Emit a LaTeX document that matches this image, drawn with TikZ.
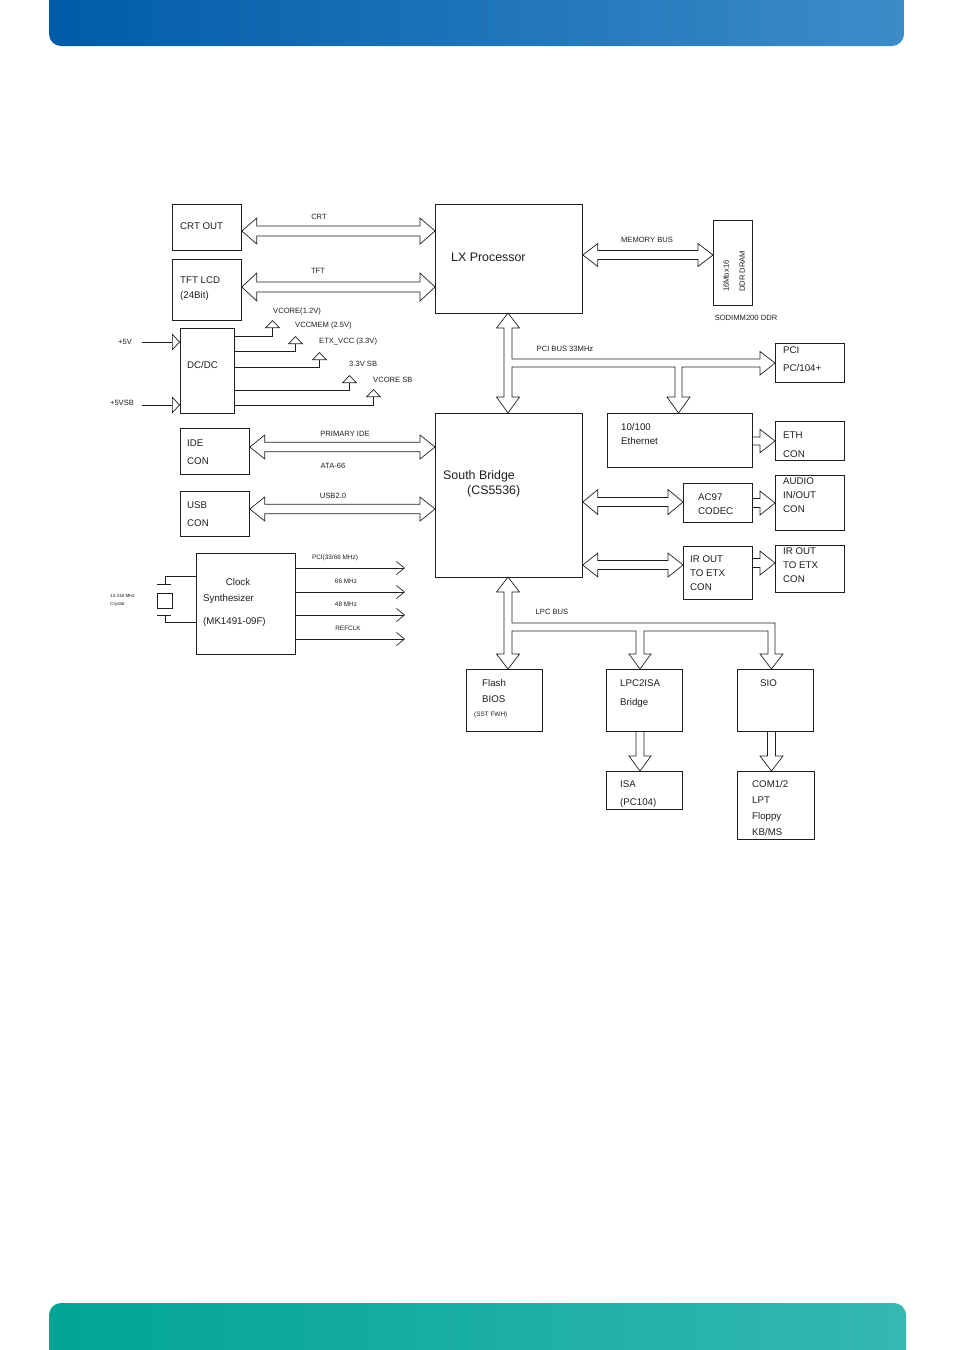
\documentclass[tikz,border=0pt]{standalone}
\usepackage{fontspec}
\setmainfont{Liberation Sans}
\usetikzlibrary{arrows.meta,calc}
\definecolor{hdrL}{RGB}{0,92,168}
\definecolor{hdrR}{RGB}{60,140,200}
\definecolor{ftrL}{RGB}{0,164,150}
\definecolor{ftrR}{RGB}{52,184,178}
\definecolor{ink}{RGB}{30,30,30}
\newcommand\hbus[4]{\draw[bus] let \p1=(#1), \p2=(#2) in (\x1,\y1) -- (\x1+15pt,\y1+#4) -- (\x1+15pt,\y1+#3) -- (\x2-15pt,\y1+#3) -- (\x2-15pt,\y1+#4) -- (\x2,\y1) -- (\x2-15pt,\y1-#4) -- (\x2-15pt,\y1-#3) -- (\x1+15pt,\y1-#3) -- (\x1+15pt,\y1-#4) -- cycle;}
\newcommand\hone[4]{\draw[bus] let \p1=(#1), \p2=(#2) in (\x1,\y1+#3) -- (\x2-15pt,\y1+#3) -- (\x2-15pt,\y1+#4) -- (\x2,\y1) -- (\x2-15pt,\y1-#4) -- (\x2-15pt,\y1-#3) -- (\x1,\y1-#3);}
\newcommand\vone[4]{\draw[bus] let \p1=(#1), \p2=(#2) in (\x1-#3,\y1) -- (\x1-#3,\y2+15pt) -- (\x1-#4,\y2+15pt) -- (\x1,\y2) -- (\x1+#4,\y2+15pt) -- (\x1+#3,\y2+15pt) -- (\x1+#3,\y1);}
\tikzset{
 box/.style={draw=ink, line width=0.8pt, anchor=north west, inner sep=0pt},
 bus/.style={draw=ink, line width=0.7pt, line join=miter},
 wire/.style={draw=ink, line width=0.7pt},
 pwr/.style={wire, -{Triangle[open,length=8pt,width=15pt]}},
 pin/.style={wire, -{Triangle[open,length=8pt,width=17pt]}},
 clkout/.style={wire, -{Straight Barb[length=8pt,width=13pt]}},
 txt/.style={inner sep=0pt, anchor=west, text=ink, font=\fontsize{9.7}{11}\selectfont, text height=7pt, text depth=0pt},
 txtb/.style={txt, font=\fontsize{12.4}{14}\selectfont, text height=8.9pt},
 txts/.style={txt, font=\fontsize{7.6}{9}\selectfont, text height=5.5pt},
 txtc/.style={txts, anchor=center},
 txtt/.style={txt, font=\fontsize{6.4}{7}\selectfont, text height=4.6pt, anchor=center},
 txtx/.style={txt, font=\fontsize{4.6}{5}\selectfont, text height=3.3pt},
}
\begin{document}
\begin{tikzpicture}[x=1pt,y=-1pt]
\useasboundingbox (0,0) rectangle (954,1350);
\shade[left color=hdrL,right color=hdrR,rounded corners=12pt] (49,-20) rectangle (904,46);
\shade[left color=ftrL,right color=ftrR,rounded corners=12pt] (49,1303) rectangle (906,1380);

% boxes
\node[box,minimum width=69,minimum height=46] (crtout) at (172,204) {};
\node[box,minimum width=69,minimum height=61] (tft) at (172,259) {};
\node[box,minimum width=147,minimum height=109] (lx) at (435,204) {};
\node[box,minimum width=39,minimum height=85] (ddr) at (713,220) {};
\node[box,minimum width=54,minimum height=85] (dcdc) at (180,328) {};
\node[box,minimum width=69,minimum height=39] (pci) at (775,343) {};
\node[box,minimum width=69,minimum height=46] (ide) at (180,428) {};
\node[box,minimum width=69,minimum height=45] (usb) at (180,491) {};
\node[box,minimum width=99,minimum height=101] (clk) at (196,553) {};
\node[box,minimum width=147,minimum height=164] (sb) at (435,413) {};
\node[box,minimum width=145,minimum height=54] (eth) at (607,413) {};
\node[box,minimum width=69,minimum height=39] (ethcon) at (775,421) {};
\node[box,minimum width=69,minimum height=39] (ac97) at (683,483) {};
\node[box,minimum width=69,minimum height=55] (audio) at (775,475) {};
\node[box,minimum width=69,minimum height=53] (irout) at (683,546) {};
\node[box,minimum width=69,minimum height=47] (ircon) at (775,545) {};
\node[box,minimum width=76,minimum height=62] (flash) at (466,669) {};
\node[box,minimum width=76,minimum height=62] (lpc2isa) at (606,669) {};
\node[box,minimum width=76,minimum height=62] (sio) at (737,669) {};
\node[box,minimum width=76,minimum height=38] (isa) at (606,771) {};
\node[box,minimum width=77,minimum height=68] (com) at (737,771) {};

% box texts
\node[txt] (t1) at (180,226) {CRT OUT};
\node[txt] (t2) at (180,280) {TFT LCD};
\node[txt] (t3) at (180,295) {(24Bit)};
\node[txtb] (t4) at (451,257) {LX Processor};
\node[txts,rotate=90] (t5) at (726,292) {16Mbx16};
\node[txts,rotate=90] (t6) at (742,292) {DDR DRAM};
\node[txtc] (t7) at (746,318) {SODIMM200 DDR};
\node[txt] (t8) at (187,365) {DC/DC};
\node[txt] (t9) at (783,350) {PCI};
\node[txt] (t10) at (783,368) {PC/104+};
\node[txt] (t11) at (187,443) {IDE};
\node[txt] (t12) at (187,461) {CON};
\node[txt] (t13) at (187,505) {USB};
\node[txt] (t14) at (187,523) {CON};
\node[txt,anchor=center] (t15) at (238,582) {Clock};
\node[txt] (t16) at (203,598) {Synthesizer};
\node[txt] (t17) at (203,621) {(MK1491-09F)};
\node[txtb] (t18) at (443,475) {South Bridge};
\node[txtb] (t19) at (467,490) {(CS5536)};
\node[txt] (t20) at (621,427) {10/100};
\node[txt] (t21) at (621,441) {Ethernet};
\node[txt] (t22) at (783,435) {ETH};
\node[txt] (t23) at (783,454) {CON};
\node[txt] (t24) at (698,497) {AC97};
\node[txt] (t25) at (698,511) {CODEC};
\node[txt] (t26) at (783,481) {AUDIO};
\node[txt] (t27) at (783,495) {IN/OUT};
\node[txt] (t28) at (783,509) {CON};
\node[txt] (t29) at (690,559) {IR OUT};
\node[txt] (t30) at (690,573) {TO ETX};
\node[txt] (t31) at (690,587) {CON};
\node[txt] (t32) at (783,551) {IR OUT};
\node[txt] (t33) at (783,565) {TO ETX};
\node[txt] (t34) at (783,579) {CON};
\node[txt] (t35) at (482,683) {Flash};
\node[txt] (t36) at (482,699) {BIOS};
\node[txtt,anchor=west] (t37) at (474,714) {(SST FWH)};
\node[txt] (t38) at (620,683) {LPC2ISA};
\node[txt] (t39) at (620,702) {Bridge};
\node[txt] (t40) at (760,683) {SIO};
\node[txt] (t41) at (620,784) {ISA};
\node[txt] (t42) at (620,802) {(PC104)};
\node[txt] (t43) at (752,784) {COM1/2};
\node[txt] (t44) at (752,800) {LPT};
\node[txt] (t45) at (752,816) {Floppy};
\node[txt] (t46) at (752,832) {KB/MS};

% connector labels
\node[txtc] (l1) at (319,217) {CRT};
\node[txtc] (l2) at (318,271) {TFT};
\node[txtc] (l3) at (647,240) {MEMORY BUS};
\node[txtc] (l4) at (565,349) {PCI BUS 33MHz};
\node[txts] (l5) at (273,311) {VCORE(1.2V)};
\node[txts] (l6) at (295,325) {VCCMEM (2.5V)};
\node[txts] (l7) at (319,341) {ETX\_VCC (3.3V)};
\node[txts] (l8) at (349,364) {3.3V SB};
\node[txts] (l9) at (373,380) {VCORE SB};
\node[txtc] (l10) at (125,342) {+5V};
\node[txtc] (l11) at (122,403) {+5VSB};
\node[txtc] (l12) at (345,434) {PRIMARY IDE};
\node[txtc] (l13) at (333,466) {ATA-66};
\node[txtc] (l14) at (333,496) {USB2.0};
\node[txtt] (l15) at (335,557) {PCI(33/66 MHz)};
\node[txtt] (l16) at (346,581) {66 MHz};
\node[txtt] (l17) at (346,604) {48 MHz};
\node[txtt] (l18) at (348,628) {REFCLK};
\node[txtx] (l19) at (110,596) {14.318 MHz};
\node[txtx] (l20) at (110,604) {Crystal};
\node[txtc] (l21) at (552,612) {LPC BUS};

% buses
\hbus{crtout.east |- 0,231}{lx.west |- 0,231}{5pt}{13pt}
\hbus{tft.east |- 0,287}{lx.west |- 0,287}{5pt}{14pt}
\hbus{lx.east |- 0,255}{ddr.west |- 0,255}{4.5pt}{11.5pt}
\hbus{ide.east |- 0,447}{sb.west |- 0,447}{4.7pt}{12pt}
\hbus{usb.east |- 0,509}{sb.west |- 0,509}{4.7pt}{12pt}
\hbus{sb.east |- 0,502}{ac97.west |- 0,502}{4.5pt}{12.5pt}
\hbus{sb.east |- 0,565}{irout.west |- 0,565}{4.5pt}{12pt}
\hone{eth.east |- 0,441}{ethcon.west |- 0,441}{4pt}{11.7pt}
\hone{ac97.east |- 0,503}{audio.west |- 0,503}{4.5pt}{12pt}
\hone{irout.east |- 0,563}{ircon.west |- 0,563}{4.5pt}{12pt}
\vone{640,0 |- lpc2isa.south}{640,0 |- isa.north}{4pt}{11pt}
\vone{771.5,0 |- sio.south}{771.5,0 |- com.north}{4pt}{11.5pt}

% PCI bus tree
\draw[bus] (508,313) -- (519.5,328) -- (512,328) -- (512,359) -- (760,359) -- (760,351.5) -- (pci.west |- 0,363) -- (760,375) -- (760,367) -- (682,367) -- (682,397) -- (690,397) -- (678.5,413) -- (667,397) -- (675,397) -- (675,367) -- (512,367) -- (512,397) -- (519.5,397) -- (508,413) -- (496.5,397) -- (504,397) -- (504,328) -- (496.5,328) -- cycle;

% LPC bus tree
\draw[bus] (508,577) -- (519.5,592) -- (512,592) -- (512,623) -- (775,623) -- (775,654) -- (783,654) -- (771.5,669) -- (760,654) -- (768,654) -- (768,631) -- (644,631) -- (644,654) -- (651,654) -- (640,669) -- (629,654) -- (636,654) -- (636,631) -- (512,631) -- (512,654) -- (519.5,654) -- (508,669) -- (496.5,654) -- (504,654) -- (504,592) -- (496.5,592) -- cycle;

% power
\coordinate (v1) at (272.5,320);
\coordinate (v2) at (295.5,336);
\coordinate (v3) at (319.5,352);
\coordinate (v4) at (349.5,375);
\coordinate (v5) at (373.5,389);
\draw[pwr] (dcdc.east |- 0,336) -| (v1);
\draw[pwr] (dcdc.east |- 0,351) -| (v2);
\draw[pwr] (dcdc.east |- 0,367) -| (v3);
\draw[pwr] (dcdc.east |- 0,390) -| (v4);
\draw[pwr] (dcdc.east |- 0,405) -| (v5);
\coordinate (p5) at (142,342);
\coordinate (p5sb) at (142,405);
\draw[pin] (p5) -- (dcdc.west |- 0,342);
\draw[pin] (p5sb) -- (dcdc.west |- 0,405);

% clock outputs
\coordinate (c1) at (405,568);
\coordinate (c2) at (405,592);
\coordinate (c3) at (405,615);
\coordinate (c4) at (405,639);
\draw[clkout] (clk.east |- 0,568) -- (c1);
\draw[clkout] (clk.east |- 0,592) -- (c2);
\draw[clkout] (clk.east |- 0,615) -- (c3);
\draw[clkout] (clk.east |- 0,639) -- (c4);

% crystal
\node[box,minimum width=15,minimum height=15] (xtal) at (156.5,592.5) {};
\coordinate (xa) at (165,584);
\coordinate (xb) at (165,615);
\draw[wire] (clk.west |- 0,576) -| (xa);
\draw[wire] (157,584) -- (171,584);
\draw[wire] (157,615) -- (171,615);
\draw[wire] (xb) |- (clk.west |- 0,622);
\end{tikzpicture}
\end{document}
